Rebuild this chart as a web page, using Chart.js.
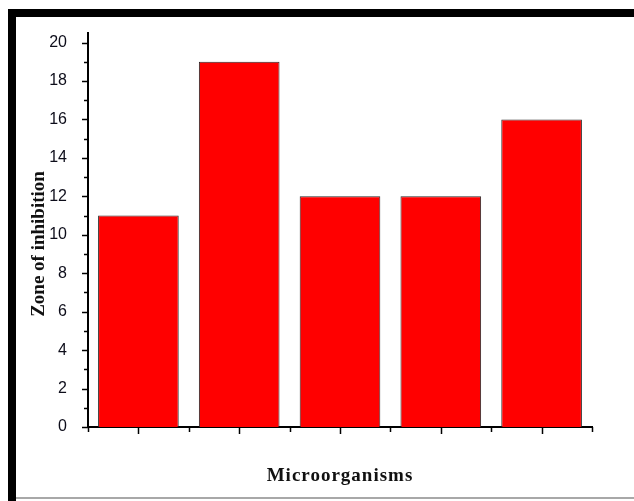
<!DOCTYPE html>
<html>
<head>
<meta charset="utf-8">
<script src="https://cdn.jsdelivr.net/npm/chart.js@4.4.1/dist/chart.umd.min.js"></script>
<style>
  body { margin: 0; background: #fff; }
  canvas { display: block; }
</style>
</head>
<body>
<canvas id="zoneChart" width="634" height="501"></canvas>
<script>
const categories = ["M1", "M2", "M3", "M4", "M5"];
const zoneValues = [11, 19, 12, 12, 16];
const yTickValues = [0, 2, 4, 6, 8, 10, 12, 14, 16, 18, 20];
const xTitle = "Microorganisms";
const yTitle = "Zone of inhibition";

// draws the outer frame, the axis ticks (major + minor) and both axis titles
const decorPlugin = {
    id: "decor",
    afterDraw(chart) {
        const ctx = chart.ctx;
        const area = chart.chartArea;
        const xs = chart.scales.x;
        const ys = chart.scales.y;

        ctx.save();

        // frame
        ctx.fillStyle = "#000";
        ctx.fillRect(8, 9, 626, 8);
        ctx.fillRect(8, 9, 8, 492);
        ctx.fillStyle = "#a8a8a8";
        ctx.fillRect(16, 497, 618, 2);

        ctx.strokeStyle = "#000";
        ctx.lineWidth = 1.5;

        // y ticks, minor ones at odd values
        for (let v = 0; v <= 20; v++) {
            const y = Math.round(ys.getPixelForValue(v)) + 0.5;
            const len = v % 2 === 0 ? 6 : 4;
            ctx.beginPath();
            ctx.moveTo(area.left - len, y);
            ctx.lineTo(area.left, y);
            ctx.stroke();
        }

        // x ticks: long at category centres, short at the boundaries
        for (let i = 0; i < categories.length; i++) {
            const x = Math.round(xs.getPixelForValue(i)) + 0.5;
            ctx.beginPath();
            ctx.moveTo(x, area.bottom);
            ctx.lineTo(x, area.bottom + 7);
            ctx.stroke();
        }
        for (let i = 0; i <= categories.length; i++) {
            const x = Math.round(xs.getPixelForValue(i - 0.5)) + 0.5;
            ctx.beginPath();
            ctx.moveTo(x, area.bottom);
            ctx.lineTo(x, area.bottom + 5);
            ctx.stroke();
        }

        // axis titles
        ctx.fillStyle = "#111";
        ctx.font = "bold 19px 'Liberation Serif', 'Times New Roman', serif";
        ctx.textAlign = "center";
        ctx.textBaseline = "alphabetic";
        ctx.letterSpacing = "1px";
        ctx.fillText(xTitle, (area.left + area.right) / 2, 481);

        ctx.letterSpacing = "0px";
        ctx.translate(44, 244);
        ctx.rotate(-Math.PI / 2);
        ctx.fillText(yTitle, 0, 0);

        ctx.restore();
    }
};

new Chart(document.getElementById("zoneChart"), {
    type: "bar",
    data: {
        labels: categories,
        datasets: [{
            label: yTitle,
            data: zoneValues,
            backgroundColor: "#ff0000",
            borderColor: "#2a2a2a",
            borderWidth: 1,
            borderSkipped: "bottom",
            barPercentage: 0.8,
            categoryPercentage: 1.0
        }]
    },
    options: {
        responsive: false,
        animation: false,
        layout: {
            padding: { top: 33, right: 42, bottom: 0, left: 0 }
        },
        plugins: {
            legend: { display: false },
            tooltip: { enabled: false }
        },
        scales: {
            x: {
                grid: { display: false },
                border: { display: true, color: "#000", width: 2 },
                ticks: { display: false },
                afterFit(scale) { scale.height = 74; }
            },
            y: {
                min: 0,
                max: 20.5,
                grid: { display: false },
                border: { display: true, color: "#000", width: 2 },
                afterBuildTicks(scale) {
                    scale.ticks = yTickValues.map(v => ({ value: v }));
                },
                ticks: {
                    padding: 13,
                    color: "#0d0d1a",
                    font: { family: "'Liberation Sans', Arial, sans-serif", size: 16 }
                },
                afterFit(scale) { scale.width = 88; }
            }
        }
    },
    plugins: [decorPlugin]
});
</script>
</body>
</html>
